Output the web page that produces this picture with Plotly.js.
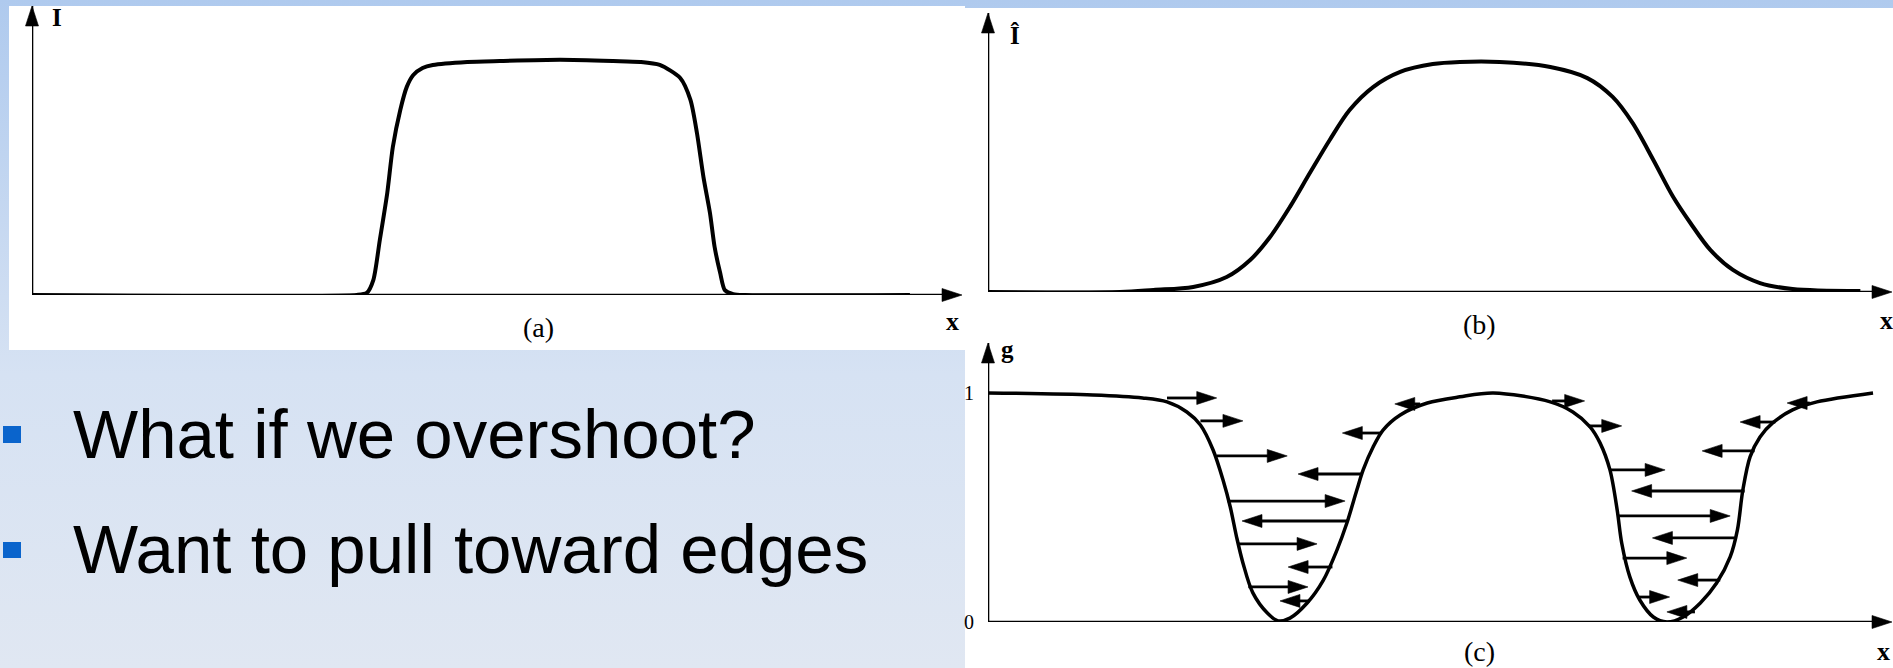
<!DOCTYPE html>
<html>
<head>
<meta charset="utf-8">
<script src="https://cdn.plot.ly/plotly-3.0.1.min.js"></script>
<style>
  html, body { margin: 0; padding: 0; }
  #chart {
    width: 1893px; height: 668px;
    background: linear-gradient(to bottom, #afcaee 0%, #d6e2f3 56%, #e0e7f2 100%);
  }
</style>
</head>
<body>
<div id="chart"></div>
<script>
// (a) original intensity profile I(x)
const stepX = [0, 34.9, 36.0, 36.7, 37.4, 38.2, 38.8, 39.6, 40.3, 41.0, 42.0, 43.1, 46.8, 50.3, 56.8,
               62.5, 65.4, 67.5, 69.7, 70.8, 71.5, 72.2, 72.9, 73.4, 74.0, 74.5, 75.4, 76.7, 94.4];
const stepY = [0, 0, 0.009, 0.064, 0.236, 0.438, 0.635, 0.794, 0.893, 0.944, 0.974, 0.987, 1.0, 1.004, 1.009,
               1.004, 1.0, 0.987, 0.931, 0.837, 0.695, 0.506, 0.352, 0.206, 0.094, 0.021, 0.004, 0, 0];

// (b) smoothed profile Î(x)
const blurX = [0, 14.6, 18.3, 22.7, 26.4, 29.0, 31.2, 33.4, 35.6, 37.8, 40.0, 42.6, 45.6, 49.2, 52.2,
               56.6, 62.2, 66.3, 69.1, 71.3, 73.6, 75.8, 77.7, 79.9, 82.4, 85.4, 89.0, 96.5];
const blurY = [0, 0, 0.009, 0.022, 0.065, 0.139, 0.239, 0.370, 0.517, 0.661, 0.791, 0.891, 0.957, 0.991, 1.0,
               1.0, 0.978, 0.930, 0.848, 0.735, 0.574, 0.413, 0.300, 0.183, 0.096, 0.039, 0.013, 0.004];

// (c) edge indicator g(x)
const gX = [0, 11.6, 17.1, 19.8, 22.0, 23.5, 24.9, 26.0, 26.8, 27.5, 28.2, 29.3, 30.9, 32.1, 33.4, 35.3,
            37.1, 38.6, 39.7, 40.8, 41.5, 42.6, 43.7, 45.6, 48.6, 52.2, 55.9, 62.2, 64.7, 66.6, 67.7,
            68.8, 69.6, 70.1, 71.0, 72.1, 73.6, 75.1, 76.9, 78.8, 80.6, 82.1, 82.9, 83.5, 84.3, 85.4,
            86.8, 89.0, 91.7, 97.9];
const gY = [1.0, 0.991, 0.978, 0.961, 0.917, 0.860, 0.751, 0.620, 0.502, 0.371, 0.258, 0.127, 0.039, 0.005,
            0.017, 0.083, 0.183, 0.314, 0.432, 0.576, 0.664, 0.764, 0.838, 0.904, 0.956, 0.983, 1.0, 0.961,
            0.917, 0.852, 0.782, 0.664, 0.489, 0.345, 0.197, 0.096, 0.022, 0.0, 0.022, 0.083, 0.170, 0.284,
            0.402, 0.576, 0.721, 0.808, 0.869, 0.926, 0.961, 1.0];

// (c) pull arrows: level g, tail x, head x
const pullLevel = [0.978, 0.878, 0.725, 0.528, 0.341, 0.153,
                   0.952, 0.825, 0.646, 0.441, 0.240, 0.092,
                   0.965, 0.856, 0.664, 0.463, 0.279, 0.109,
                   0.956, 0.873, 0.747, 0.572, 0.367, 0.183, 0.044];
const pullTail  = [19.8, 23.5, 25.3, 26.5, 27.7, 28.8,
                   47.8, 43.6, 41.4, 39.8, 38.1, 35.6,
                   62.4, 66.4, 68.8, 69.6, 70.2, 71.9,
                   90.9, 87.1, 84.8, 83.7, 82.6, 81.0, 78.2];
const pullHead  = [25.3, 28.2, 33.1, 39.5, 36.4, 35.4,
                   45.0, 39.2, 34.3, 28.1, 33.2, 32.3,
                   66.0, 70.1, 74.9, 82.1, 77.3, 75.4,
                   88.4, 83.2, 79.0, 71.2, 73.5, 76.3, 75.1];

const gTickVals = [0, 1];
const gTickText = ['0', '1'];
const bulletText = ['What if we overshoot?', 'Want to pull toward edges'];
const panelTags = ['(a)', '(b)', '(c)'];

// page geometry helpers (pixel -> paper fraction)
const W = 1893, H = 668;
const px = v => v / W;
const py = v => 1 - v / H;

const ranges = {
  a: { x: [0, 100], y: [0, 1.24] },
  b: { x: [0, 100], y: [0, 1.213] },
  c: { x: [0, 100], y: [0, 1.218] }
};

// segments with an arrowhead marker at the far end
function arrowSegments(x0, y0, x1, y1, xa, ya, width, head) {
  const x = [], y = [], size = [];
  for (let i = 0; i < x0.length; i++) {
    x.push(x0[i], x1[i], null);
    y.push(y0[i], y1[i], null);
    size.push(0, head, 0);
  }
  return {
    type: 'scatter', mode: 'lines+markers', x, y, xaxis: xa, yaxis: ya,
    cliponaxis: false, hoverinfo: 'skip',
    line: { color: '#000', width },
    marker: { symbol: 'arrow', angleref: 'previous', size, color: '#000', opacity: 1,
              line: { width: 0.6, color: '#000' } }
  };
}

function axesFor(r, xa, ya) {
  return arrowSegments([0, 0], [0, 0], [r.x[1], 0], [0, r.y[1]], xa, ya, 2.6, 21);
}

function curve(x, y, xa, ya, width, smoothing) {
  return {
    type: 'scatter', mode: 'lines', x, y, xaxis: xa, yaxis: ya, cliponaxis: false,
    hoverinfo: 'skip', line: { color: '#000', width, shape: 'spline', smoothing }
  };
}

const data = [
  axesFor(ranges.a, 'x', 'y'),
  axesFor(ranges.b, 'x2', 'y2'),
  axesFor(ranges.c, 'x3', 'y3'),
  curve(stepX, stepY, 'x', 'y', 4, 0.7),
  curve(blurX, blurY, 'x2', 'y2', 4, 0.9),
  curve(gX, gY, 'x3', 'y3', 3.5, 0.9),
  arrowSegments(pullTail, pullLevel, pullHead, pullLevel, 'x3', 'y3', 2.8, 21)
];

const hidden = { visible: false, fixedrange: true };
const serif = 'Liberation Serif, Times New Roman, serif';
const sans = 'Liberation Sans, Arial, sans-serif';

function label(text, x, y, size, bold) {
  return {
    text: bold ? '<b>' + text + '</b>' : text,
    xref: 'paper', yref: 'paper', x: px(x), y: py(y),
    xanchor: 'center', yanchor: 'middle', showarrow: false,
    font: { family: serif, size, color: '#000' }
  };
}

const annotations = [
  label('I', 57, 17.5, 25, true),
  label('Î', 1015, 36, 25, true),
  label('g', 1008, 349, 25, true),
  label('x', 952, 321, 26, true),
  label('x', 1886, 320, 26, true),
  label('x', 1883, 651, 26, true),
  label(panelTags[0], 538, 327.5, 28, false),
  label(panelTags[1], 1479, 324.5, 28, false),
  label(panelTags[2], 1479, 651, 28, false)
];
const bulletCenters = [434, 549];
bulletText.forEach((t, i) => {
  annotations.push({
    text: t, xref: 'paper', yref: 'paper', x: px(71), y: py(bulletCenters[i]),
    xanchor: 'left', yanchor: 'middle', showarrow: false,
    font: { family: sans, size: 69, color: '#000' }
  });
});

const shapes = [
  { type: 'rect', xref: 'paper', yref: 'paper', layer: 'below',
    x0: px(9), x1: px(965), y0: py(350), y1: py(6), fillcolor: '#ffffff', line: { width: 0 } },
  { type: 'rect', xref: 'paper', yref: 'paper', layer: 'below',
    x0: px(965), x1: 1, y0: 0, y1: py(8), fillcolor: '#ffffff', line: { width: 0 } }
];
[[426, 443], [542, 558]].forEach(([t, b]) => {
  shapes.push({ type: 'rect', xref: 'paper', yref: 'paper',
    x0: px(3), x1: px(21), y0: py(b), y1: py(t), fillcolor: '#0a64cc', line: { width: 0 } });
});

const layout = {
  width: W, height: H,
  margin: { l: 0, r: 0, t: 0, b: 0 },
  paper_bgcolor: 'rgba(0,0,0,0)', plot_bgcolor: 'rgba(0,0,0,0)',
  showlegend: false,
  xaxis:  Object.assign({ domain: [px(32), px(962)], range: ranges.a.x, anchor: 'y' }, hidden),
  yaxis:  Object.assign({ domain: [py(295), py(6)], range: ranges.a.y, anchor: 'x' }, hidden),
  xaxis2: Object.assign({ domain: [px(988), px(1892)], range: ranges.b.x, anchor: 'y2' }, hidden),
  yaxis2: Object.assign({ domain: [py(292), py(13)], range: ranges.b.y, anchor: 'x2' }, hidden),
  xaxis3: Object.assign({ domain: [px(988), px(1892)], range: ranges.c.x, anchor: 'y3' }, hidden),
  yaxis3: {
    domain: [py(622), py(343)], range: ranges.c.y, anchor: 'x3', fixedrange: true,
    showgrid: false, zeroline: false, showline: false, ticks: '',
    tickvals: gTickVals, ticktext: gTickText, ticklabelstandoff: 13,
    tickfont: { family: serif, size: 20, color: '#000' }
  },
  annotations, shapes
};

Plotly.newPlot('chart', data, layout, { staticPlot: true });
</script>
</body>
</html>
